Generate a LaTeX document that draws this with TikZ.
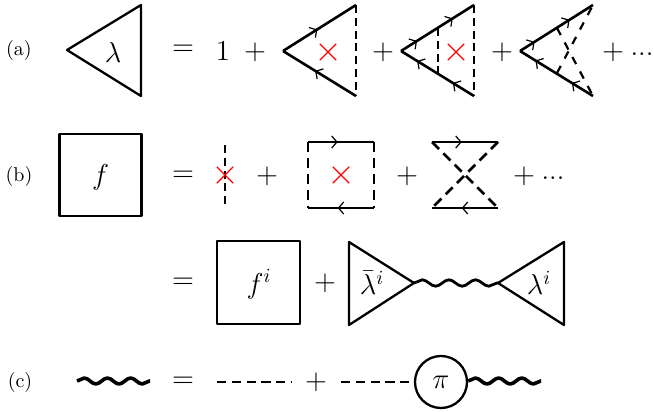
\documentclass[tikz,border=0pt]{standalone}
\usepackage{amsmath,amssymb}
\usepackage{xcolor}
\usepackage{tikz}
\usetikzlibrary{arrows.meta, calc, decorations.pathmorphing, decorations.markings, shapes.misc}

\begin{document}
\begin{tikzpicture}[
    x=0.5pt, y=-0.5pt,
    line join=round,
    plain/.style={line width=1.15pt},
    solid line/.style={line width=1.3pt},
    dashline/.style={line width=1.3pt, dash pattern=on 4pt off 2.4pt},
    widedash/.style={line width=1.3pt, dash pattern=on 5pt off 3pt},
    sparsedash/.style={line width=1.1pt, dash pattern=on 4pt off 4.2pt},
    longdash/.style={line width=1.1pt, dash pattern=on 4.6pt off 2.8pt},
    wave/.style={line width=1.4pt, decorate, decoration={snake, amplitude=1.6pt, segment length=13.3pt}},
    thick wave/.style={line width=1.8pt, decorate, decoration={snake, amplitude=1.5pt, segment length=11.6pt}},
    flow/.style={postaction={decorate, decoration={markings, mark=at position #1 with {\arrow[line width=0.6pt]{Straight Barb[length=2.6pt, width=6pt]}}}}},
    crossmark/.style={cross out, draw=red, line width=0.65pt, minimum size=7.5pt, inner sep=0pt},
    sym/.style={font=\fontsize{14}{16}\selectfont, inner sep=0pt},
    tag/.style={font=\normalsize, inner sep=0pt}
]
\useasboundingbox (0,0) rectangle (654,412);

% row (a)
\node[tag] (la) at (19,50) {(a)};
\coordinate (ta1) at (67,50);
\coordinate (ta2) at (141,5);
\coordinate (ta3) at (141,96);
\draw[plain] (ta1) -- (ta2) -- (ta3) -- cycle;
\node[sym] (lam) at (113,52) {$\lambda$};
\node[sym] (eqa) at (183,50) {$=$};
\node[sym] (one) at (223,51) {$1$};
\node[sym] (pa1) at (255,52) {$+$};

\coordinate (ua) at (283,51);
\coordinate (ub) at (356,5);
\coordinate (uc) at (356,96);
\draw[solid line, flow=.47] (ua) -- (ub);
\draw[solid line, flow=.56] (uc) -- (ua);
\draw[dashline] (ub) -- (uc);
\node[crossmark] (xa1) at (328,52) {};
\node[sym] (pa2) at (383,52) {$+$};

\coordinate (va) at (401,51);
\coordinate (vb) at (474,5);
\coordinate (vc) at (474,96);
\coordinate (vd) at (438,28);
\coordinate (ve) at (438,74);
\draw[solid line, flow=.22, flow=.71] (va) -- (vb);
\draw[solid line, flow=.29, flow=.78] (vc) -- (va);
\draw[dashline] (vb) -- (vc);
\draw[dashline] (vd) -- (ve);
\node[crossmark] (xa2) at (456,52) {};
\node[sym] (pa3) at (502,52) {$+$};

\coordinate (wa) at (520,51);
\coordinate (wb) at (593,5);
\coordinate (wc) at (593,96);
\coordinate (wd) at (557,28);
\coordinate (we) at (557,73);
\draw[solid line, flow=.2, flow=.68] (wa) -- (wb);
\draw[solid line, flow=.29, flow=.79] (wc) -- (wa);
\draw[sparsedash] (wd) -- (wc);
\draw[sparsedash] (we) -- (wb);
\node[sym] (pa4) at (613,52) {$+$};
\node[sym] (dota) at (642,54) {...};

% row (b)
\node[tag] (lb) at (19,176) {(b)};
\node[draw, plain, minimum size=41pt] (fbox) at (100.5,175) {};
\node[sym, font=\Large] (ftxt) at (100.5,177) {$f$};
\node[sym] (eqb) at (183,176) {$=$};
\coordinate (ka) at (225,145);
\coordinate (kb) at (225,208);
\draw[dashline] (ka) -- (kb);
\node[crossmark] (xb1) at (225,175) {};
\node[sym] (pb1) at (267,176) {$+$};

\coordinate (ra) at (308,142);
\coordinate (rb) at (374,142);
\coordinate (rc) at (374,208);
\coordinate (rd) at (308,208);
\draw[solid line, flow=.45] (ra) -- (rb);
\draw[solid line, flow=.55] (rc) -- (rd);
\draw[widedash] (ra) -- (rd);
\draw[widedash] (rb) -- (rc);
\node[crossmark] (xb2) at (341,175) {};
\node[sym] (pb2) at (407,176) {$+$};

\coordinate (sa) at (432,142);
\coordinate (sb) at (498,142);
\coordinate (sc) at (498,208);
\coordinate (sd) at (432,208);
\draw[solid line, flow=.45] (sa) -- (sb);
\draw[solid line, flow=.55] (sc) -- (sd);
\draw[widedash] (sa) -- (sc);
\draw[widedash] (sb) -- (sd);
\node[sym] (pb3) at (524,176) {$+$};
\node[sym] (dotb) at (553,178) {...};

% second line of (b)
\node[sym] (eqi) at (183,283) {$=$};
\node[draw, plain, minimum size=41.5pt] (fi) at (258.5,282.5) {};
\node[sym, font=\Large] (ftxti) at (259,284) {$f^i$};
\node[sym] (pi1) at (325,283) {$+$};
\coordinate (la1) at (349,242);
\coordinate (la2) at (349,325);
\coordinate (la3) at (414,283);
\coordinate (ra1) at (564,242);
\coordinate (ra2) at (564,325);
\coordinate (ra3) at (498,283);
\draw[plain] (la1) -- (la3) -- (la2) -- cycle;
\draw[plain] (ra1) -- (ra3) -- (ra2) -- cycle;
\draw[wave] (la3) -- (ra3);
\node[sym] (lbar) at (372,283) {$\bar\lambda^i$};
\node[sym] (lami) at (539,283) {$\lambda^i$};

% row (c)
\node[tag] (lc) at (20,382) {(c)};
\coordinate (ca) at (77,381);
\coordinate (cb) at (150,381);
\draw[thick wave] (ca) -- (cb);
\node[sym] (eqc) at (183,382) {$=$};
\coordinate (cc) at (217,382);
\coordinate (cd) at (292,382);
\draw[longdash] (cc) -- (cd);
\node[sym] (pc) at (316,382) {$+$};
\coordinate (ce) at (341,382);
\node[draw, circle, plain, minimum size=26pt, inner sep=0pt] (pol) at (441,382) {};
\node[sym] (pitxt) at (441,382) {$\pi$};
\draw[longdash] (ce) -- (pol);
\coordinate (cf) at (541,381);
\draw[thick wave] (pol.east |- cf) -- (cf);
\end{tikzpicture}
\end{document}
